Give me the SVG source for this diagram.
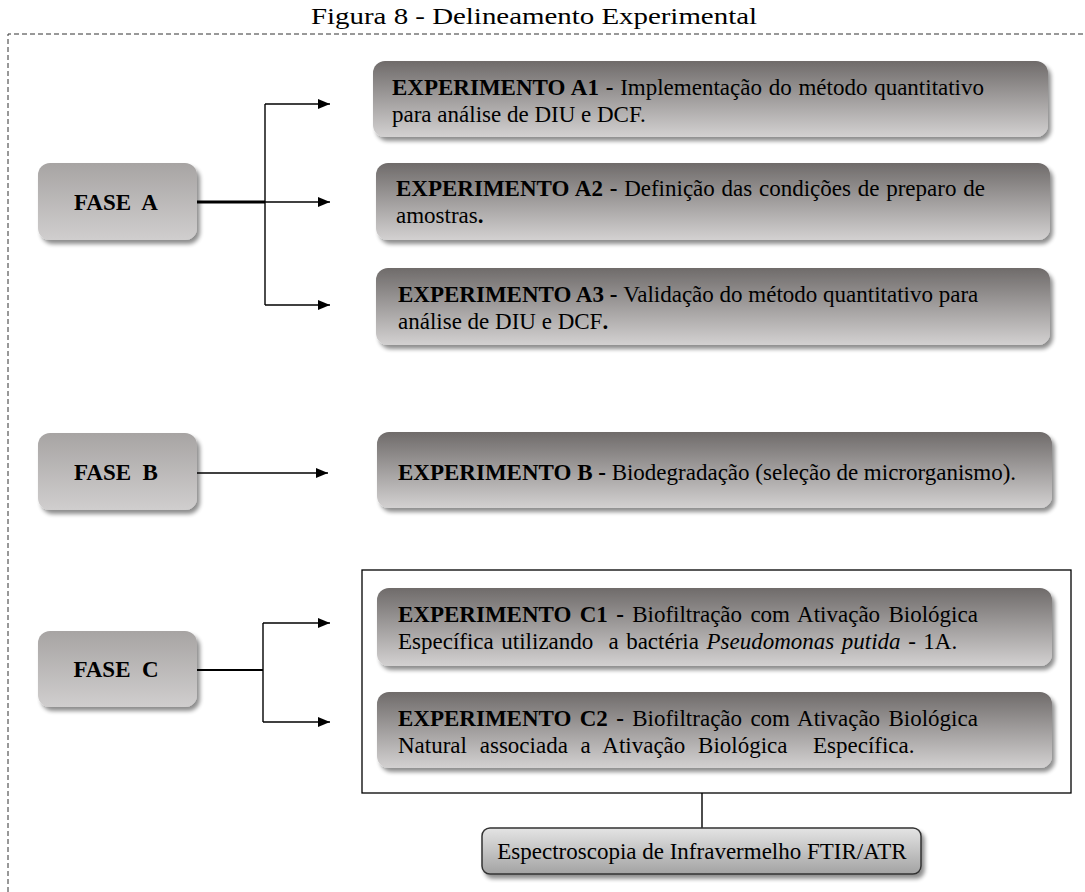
<svg xmlns="http://www.w3.org/2000/svg" width="1085" height="892" viewBox="0 0 1085 892">
<defs>
  <linearGradient id="gExp" x1="0" y1="0" x2="0" y2="1">
    <stop offset="0" stop-color="#6f6b6a"/>
    <stop offset="1" stop-color="#d3d1d1"/>
  </linearGradient>
  <linearGradient id="gFase" x1="0" y1="0" x2="0" y2="1">
    <stop offset="0" stop-color="#a7a4a3"/>
    <stop offset="1" stop-color="#d0cece"/>
  </linearGradient>
  <linearGradient id="gSpec" x1="0" y1="0" x2="0" y2="1">
    <stop offset="0" stop-color="#e4e4e4"/>
    <stop offset="1" stop-color="#a3a3a3"/>
  </linearGradient>
  <filter id="sh" x="-5%" y="-10%" width="115%" height="130%">
    <feGaussianBlur in="SourceAlpha" stdDeviation="2"/>
    <feOffset dx="3" dy="4" result="b"/>
    <feComponentTransfer><feFuncA type="linear" slope="0.45"/></feComponentTransfer>
    <feMerge><feMergeNode/><feMergeNode in="SourceGraphic"/></feMerge>
  </filter>
  <marker id="arr" viewBox="0 0 12 10" refX="12" refY="5" markerWidth="12" markerHeight="10" markerUnits="userSpaceOnUse" orient="auto">
    <path d="M0,0 L12,5 L0,10 z" fill="#000"/>
  </marker>
  <style>
    text { font-family: "Liberation Serif", "Times New Roman", serif; fill: #000; }
    .t { font-size: 23px; }
    .b { font-weight: bold; }
    .exp { fill: url(#gExp); filter: url(#sh); }
    .fase { fill: url(#gFase); filter: url(#sh); }
    .ln { stroke: #000; stroke-width: 1.4; fill: none; }
  </style>
</defs>
<rect width="1085" height="892" fill="#fff"/>
<text x="534" y="24" text-anchor="middle" font-size="24" textLength="446" lengthAdjust="spacingAndGlyphs">Figura 8 - Delineamento Experimental</text>
<path d="M8,892 V34 H1085" fill="none" stroke="#333" stroke-width="1" stroke-dasharray="5,3"/>

<g id="connectors">
  <line x1="197" y1="202" x2="265" y2="202" stroke="#000" stroke-width="3"/>
  <path class="ln" d="M265,104 V305"/>
  <line class="ln" x1="265" y1="104" x2="330" y2="104" marker-end="url(#arr)"/>
  <line class="ln" x1="265" y1="202" x2="330" y2="202" marker-end="url(#arr)"/>
  <line class="ln" x1="265" y1="305" x2="330" y2="305" marker-end="url(#arr)"/>
  <line class="ln" x1="197" y1="473" x2="328" y2="473" marker-end="url(#arr)"/>
  <line x1="197" y1="670" x2="263" y2="670" stroke="#000" stroke-width="2"/>
  <path class="ln" d="M263,623 V722"/>
  <line class="ln" x1="263" y1="623" x2="330" y2="623" marker-end="url(#arr)"/>
  <line class="ln" x1="263" y1="722" x2="330" y2="722" marker-end="url(#arr)"/>
  <line class="ln" x1="702" y1="793" x2="702" y2="828"/>
</g>

<g id="faseA"><rect class="fase" x="38" y="163" width="159" height="77" rx="12"/>
  <text class="t b" x="116" y="210" text-anchor="middle" xml:space="preserve">FASE  A</text></g>
<g id="faseB"><rect class="fase" x="38" y="433" width="159" height="77" rx="12"/>
  <text class="t b" x="116" y="480" text-anchor="middle" xml:space="preserve">FASE  B</text></g>
<g id="faseC"><rect class="fase" x="38" y="631" width="159" height="76" rx="12"/>
  <text class="t b" x="116" y="677" text-anchor="middle" xml:space="preserve">FASE  C</text></g>

<g id="expA1"><rect class="exp" x="373" y="61" width="675" height="76" rx="12"/>
  <text class="t" x="392" y="95" word-spacing="1"><tspan class="b">EXPERIMENTO A1 - </tspan>Implementação do método quantitativo</text>
  <text class="t" x="392" y="122">para análise de DIU e DCF.</text></g>
<g id="expA2"><rect class="exp" x="376" y="163" width="674" height="77" rx="12"/>
  <text class="t" x="396" y="196" word-spacing="1"><tspan class="b">EXPERIMENTO A2 - </tspan>Definição das condições de preparo de</text>
  <text class="t" x="396" y="223">amostras<tspan class="b">.</tspan></text></g>
<g id="expA3"><rect class="exp" x="376" y="268" width="674" height="77" rx="12"/>
  <text class="t" x="398" y="302"><tspan class="b">EXPERIMENTO A3 - </tspan>Validação do método quantitativo para</text>
  <text class="t" x="398" y="329">análise de DIU e DCF<tspan class="b">.</tspan></text></g>
<g id="expB"><rect class="exp" x="377" y="432" width="675" height="76" rx="12"/>
  <text class="t" x="398" y="480"><tspan class="b">EXPERIMENTO B - </tspan>Biodegradação (seleção de microrganismo).</text></g>

<g id="frameC"><rect x="362" y="570" width="709" height="223" fill="none" stroke="#000" stroke-width="1.3"/></g>
<g id="expC1"><rect class="exp" x="377" y="588" width="675" height="78" rx="12"/>
  <text class="t" x="398" y="622" word-spacing="2.6"><tspan class="b">EXPERIMENTO C1 - </tspan>Biofiltração com Ativação Biológica</text>
  <text class="t" x="398" y="649" xml:space="preserve" word-spacing="1.8">Específica utilizando  a bactéria <tspan font-style="italic">Pseudomonas putida</tspan> - 1A.</text></g>
<g id="expC2"><rect class="exp" x="377" y="692" width="675" height="76" rx="12"/>
  <text class="t" x="398" y="726" word-spacing="2.6"><tspan class="b">EXPERIMENTO C2 - </tspan>Biofiltração com Ativação Biológica</text>
  <text class="t" x="398" y="753" xml:space="preserve" word-spacing="7">Natural associada a Ativação Biológica  Específica.</text></g>

<g id="spec"><rect x="482" y="828" width="439" height="46" rx="8" fill="url(#gSpec)" stroke="#333" stroke-width="1.5" filter="url(#sh)"/>
  <text class="t" x="702" y="859" text-anchor="middle">Espectroscopia de Infravermelho FTIR/ATR</text></g>
</svg>
